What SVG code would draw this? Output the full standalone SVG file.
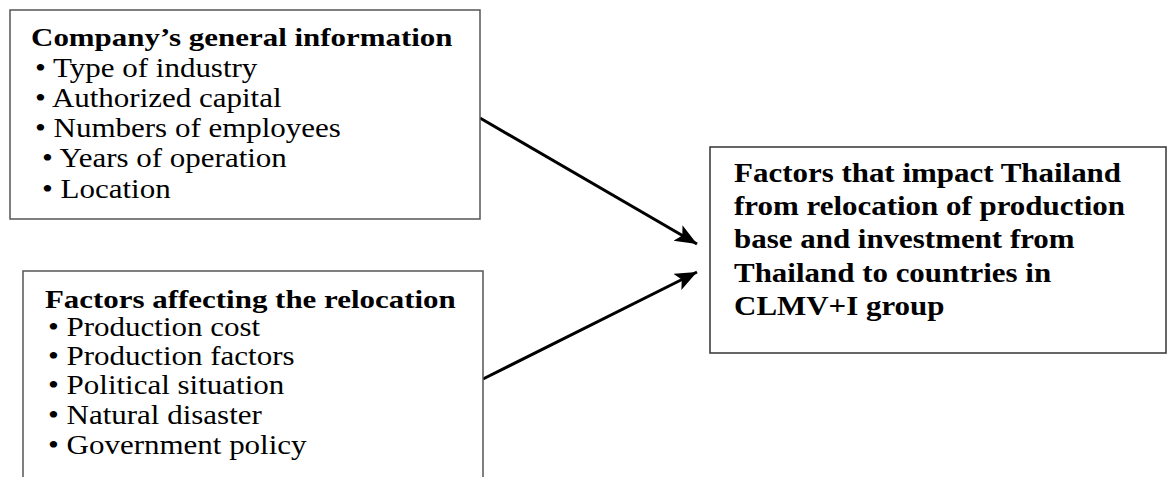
<svg xmlns="http://www.w3.org/2000/svg" width="1168" height="477" viewBox="0 0 1168 477">
<style>
.box{fill:#fff;stroke:#555;stroke-width:1.5}
.box3{fill:#fff;stroke:#333;stroke-width:1.5}
text{font-family:"Liberation Serif","Times New Roman",serif;fill:#000}
.r{font-size:27px}
.b{font-weight:bold;font-size:26px}
.b3{font-weight:bold;font-size:28px}
.conn{stroke:#000;stroke-width:3;fill:none}
</style>
<defs>
<marker id="ah" markerUnits="userSpaceOnUse" markerWidth="24" markerHeight="20" refX="22" refY="9" orient="auto">
<path d="M0,0 L22,9 L0,18 L5,9 Z" fill="#000"/>
</marker>
</defs>
<g id="connectors">
<line class="conn" x1="480" y1="118" x2="697" y2="244" marker-end="url(#ah)"/>
<line class="conn" x1="483" y1="379" x2="697" y2="272" marker-end="url(#ah)"/>
</g>
<g id="node-company">
<rect class="box" x="10" y="10" width="470" height="209"/>
<g transform="scale(1.19,1)">
<text class="b" x="26.1" y="46">Company’s general information</text>
</g>
<g transform="scale(1.148,1)" class="r">
<text x="30.5" y="77">• Type of industry</text>
<text x="30.5" y="107">• Authorized capital</text>
<text x="30.5" y="137">• Numbers of employees</text>
<text x="36.6" y="167">• Years of operation</text>
<text x="36.6" y="198">• Location</text>
</g>
</g>
<g id="node-factors">
<rect class="box" x="23" y="271" width="460" height="230"/>
<g transform="scale(1.19,1)">
<text class="b" x="37.8" y="308">Factors affecting the relocation</text>
</g>
<g transform="scale(1.148,1)" class="r">
<text x="41.8" y="336">• Production cost</text>
<text x="41.8" y="365">• Production factors</text>
<text x="41.8" y="394">• Political situation</text>
<text x="41.8" y="424">• Natural disaster</text>
<text x="41.8" y="454">• Government policy</text>
</g>
</g>
<g id="node-impact">
<rect class="box3" x="710" y="147" width="456" height="206"/>
<g transform="scale(1.105,1)">
<text class="b3" x="664.3" y="182">Factors that impact Thailand</text>
<text class="b3" x="664.3" y="215">from relocation of production</text>
<text class="b3" x="664.3" y="248">base and investment from</text>
<text class="b3" x="664.3" y="282">Thailand to countries in</text>
<text class="b3" x="664.3" y="315">CLMV+I group</text>
</g>
</g>
</svg>
